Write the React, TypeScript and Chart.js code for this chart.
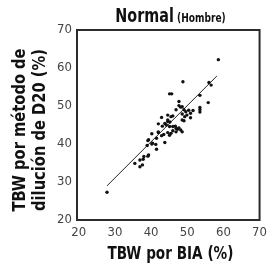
import React, { useEffect, useRef } from "react";
import { Chart, registerables } from "chart.js";
Chart.register(...registerables);

const FONT = "'Liberation Sans Narrow', 'DejaVu Sans Condensed', Arial, sans-serif";

const xTicks = [20, 30, 40, 50, 60, 70];
const yTicks = [20, 30, 40, 50, 60, 70];

const biaX = [
  27.8, 35.5, 36.9, 36.9, 37.8, 37.6, 39.1, 38.9, 39.1, 40.2, 40.4, 41.3, 41.5, 42.0, 42.0,
  42.9, 43.5, 43.8, 45.1, 43.1, 44.6, 46.0, 46.7, 47.3, 48.2, 49.1, 47.7, 47.7, 48.6, 46.9,
  49.1, 49.6, 50.4, 50.9, 49.9, 50.9, 51.6, 44.6, 46.0, 42.9, 44.6, 43.8, 44.2, 45.2, 45.1,
  46.0, 46.9, 47.7, 48.6, 46.9, 45.5, 44.6, 41.5, 39.3, 38.0, 39.3, 58.6, 48.8, 56.0, 56.6,
  53.5, 55.8, 53.5, 53.5, 53.5, 45.1, 45.7, 48.2, 48.6, 49.3, 48.6, 45.5, 40.2, 42.0,
];
const d2oY = [
  27.3, 34.9, 34.0, 35.8, 36.0, 34.5, 36.8, 39.6, 40.9, 42.7, 40.2, 39.9, 38.6, 45.3, 43.0,
  42.2, 42.5, 40.4, 42.3, 44.7, 45.9, 43.5, 44.7, 43.9, 43.7, 46.1, 51.2, 50.1, 49.8, 49.0,
  49.0, 48.5, 48.9, 48.1, 47.6, 46.9, 48.8, 47.6, 47.4, 47.0, 46.3, 45.4, 45.0, 45.8, 44.6,
  44.6, 44.1, 44.2, 43.2, 43.2, 42.8, 43.0, 41.5, 41.1, 36.7, 37.1, 62.2, 56.4, 56.2, 55.5,
  52.8, 50.9, 49.6, 49.0, 48.4, 53.2, 53.2, 49.7, 47.9, 47.2, 46.3, 47.2, 40.0, 43.2,
];
const fitX = [27.8, 58.2];
const fitY = [29.0, 57.9];

const deco = {
  id: "deco",
  afterDraw(chart: any) {
    const { ctx, chartArea: a } = chart;
    ctx.save();
    ctx.strokeStyle = "#2b2b2b";
    ctx.lineWidth = 2;
    ctx.strokeRect(a.left, a.top, a.right - a.left, a.bottom - a.top);
    ctx.fillStyle = "#111";
    ctx.textBaseline = "alphabetic";
    ctx.textAlign = "left";

    // chart title, horizontally condensed
    const t1 = "Normal";
    const t2 = " (Hombre)";
    const sx = 0.84;
    ctx.font = `bold 19px ${FONT}`;
    const w1 = ctx.measureText(t1).width;
    ctx.font = `bold 12px ${FONT}`;
    const w2 = ctx.measureText(t2).width;
    ctx.save();
    ctx.translate(170.5, 22);
    ctx.scale(sx, 1);
    const x0 = -(w1 + w2) / 2;
    ctx.font = `bold 19px ${FONT}`;
    ctx.fillText(t1, x0, 0);
    ctx.font = `bold 12px ${FONT}`;
    ctx.fillText(t2, x0 + w1, 0);
    ctx.restore();

    // x title
    ctx.save();
    ctx.textAlign = "center";
    ctx.font = `bold 17px ${FONT}`;
    ctx.translate(170.5, 259);
    ctx.scale(0.89, 1);
    ctx.fillText("TBW por BIA (%)", 0, 0);
    ctx.restore();

    // y title
    ctx.save();
    ctx.textAlign = "center";
    ctx.font = `bold 17px ${FONT}`;
    ctx.translate(0, 130);
    ctx.rotate(-Math.PI / 2);
    ctx.scale(0.96, 1);
    ctx.fillText("TBW por método de", 0, 25);
    ctx.fillText("dilución de D20 (%)", 0, 45);
    ctx.restore();

    ctx.restore();
  },
};

export default function App() {
  const ref = useRef<HTMLCanvasElement>(null);
  useEffect(() => {
    document.body.style.margin = "0";
    const chart = new Chart(ref.current!, {
      type: "scatter",
      data: {
        datasets: [
          {
            type: "scatter",
            data: biaX.map((x, i) => ({ x, y: d2oY[i] })),
            pointRadius: 1.7,
            pointBackgroundColor: "#111",
            pointBorderWidth: 0,
          } as any,
          {
            type: "line",
            data: fitX.map((x, i) => ({ x, y: fitY[i] })),
            borderColor: "#222",
            borderWidth: 1,
            pointRadius: 0,
            fill: false,
          } as any,
        ],
      },
      options: {
        animation: false,
        responsive: false,
        devicePixelRatio: 1,
        layout: { padding: { top: 30, right: 5, left: 0, bottom: 0 } },
        plugins: { legend: { display: false }, tooltip: { enabled: false }, title: { display: false } },
        scales: {
          x: {
            type: "linear",
            min: 19.5,
            max: 70,
            afterBuildTicks: (s: any) => { s.ticks = xTicks.map((v) => ({ value: v })); },
            afterFit: (s: any) => { s.height = 45; },
            grid: { display: false, drawTicks: false },
            border: { display: false },
            ticks: { padding: 5, color: "#444", font: { family: FONT, size: 13 } },
          },
          y: {
            type: "linear",
            min: 20,
            max: 70,
            afterBuildTicks: (s: any) => { s.ticks = yTicks.map((v) => ({ value: v })); },
            afterFit: (s: any) => { s.width = 77; },
            grid: { display: false, drawTicks: false },
            border: { display: false },
            ticks: { padding: 5, color: "#444", font: { family: FONT, size: 13 } },
          },
        },
      },
      plugins: [deco],
    });
    return () => chart.destroy();
  }, []);
  return (
    <div style={{ width: 272, height: 265 }}>
      <canvas ref={ref} width={272} height={265} />
    </div>
  );
}
